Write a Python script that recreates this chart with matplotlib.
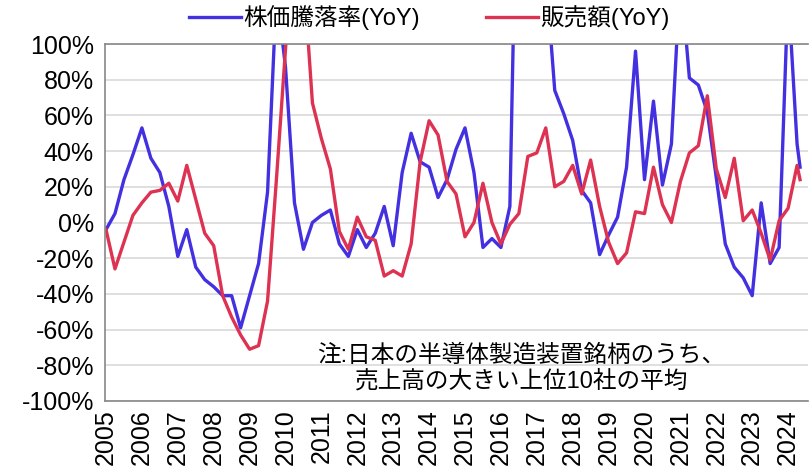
import numpy as np
import matplotlib
matplotlib.use("Agg")
import matplotlib.pyplot as plt

plt.rcParams['font.family'] = ['Liberation Sans', 'Noto Sans CJK JP', 'DejaVu Sans']

# quarterly YoY (%), 2005Q1 .. 2024Q2, then the latest month (May 2024)
start_year = 2005
latest = 2024 + 4 / 12

stock_yoy = [
    -4, 5, 24, 38, 53, 36, 28, 9, -19, -4, -25, -32,
    -36, -41, -41, -59, -41, -23, 17, 130, 87, 11, -15, 0,
    4, 7, -12, -19, -4, -14, -6, 9, -13, 28, 50, 34,
    31, 14, 24, 41, 53, 28, -14, -9, -14, 9, 260, 290,
    230, 140, 74, 61, 46, 18, 11, -18, -7, 3, 31, 96,
    24, 68, 21, 44, 140, 81, 77, 62, 25, -12, -25, -31,
    -41, 11, -23, -14, 130, 44, 31,
]
sales_yoy = [
    -4, -26, -11, 4, 11, 17, 18, 22, 12, 32, 13, -6,
    -13, -41, -53, -63, -71, -69, -44, 25, 97, 170, 140, 67,
    47, 30, -5, -15, 3, -8, -10, -30, -27, -30, -12, 34,
    57, 49, 23, 16, -8, 0, 22, 0, -12, -1, 5, 37,
    39, 53, 20, 23, 32, 16, 35, 9, -11, -23, -17, 6,
    5, 31, 10, 0, 23, 39, 43, 71, 30, 14, 36, 1,
    7, -6, -21, 1, 8, 32, 24,
]
years = list(range(2005, 2025))
yticks = list(range(-100, 101, 20))

labels = ['株価騰落率(YoY)', '販売額(YoY)']
colors = ['#4330E0', '#DE3252']
note = '注:日本の半導体製造装置銘柄のうち、\n売上高の大きい上位10社の平均'

n_q = len(stock_yoy) - 1
x = np.append(start_year + np.arange(n_q) / 4, latest)

fig = plt.figure(figsize=(8.12, 4.72), dpi=100)
ax = fig.add_axes([105 / 812, 71 / 472, 703 / 812, 357 / 472])

ax.plot(x, stock_yoy, color=colors[0], lw=2.4, label=labels[0])
ax.plot(x, sales_yoy, color=colors[1], lw=2.4, label=labels[1])

ax.set_ylim(-100, 100)
ax.set_xlim(2005 - 1 / 35.9, 2005 + 702 / 35.9)
ax.set_yticks(yticks)
ax.set_yticklabels([f'{v}%' for v in yticks])
ax.set_xticks(years)
ax.set_xticklabels([str(y) for y in years], rotation=90)
ax.tick_params(axis='both', length=0, labelsize=18)
ax.tick_params(axis='y', pad=8)
ax.tick_params(axis='x', pad=6)

ax.grid(axis='y', color='#D9D9D9', lw=1.2)
ax.set_axisbelow(True)
for side in ['left', 'bottom', 'top']:
    ax.spines[side].set_color('#888888')
    ax.spines[side].set_linewidth(1.2)
ax.spines['right'].set_visible(False)

ax.text(0.592, 0.092, note, transform=ax.transAxes, ha='center', va='center',
        fontsize=17, linespacing=1.2)

ax.legend(loc='center', bbox_to_anchor=(0.461, 1.073), ncol=2, frameon=False,
          fontsize=17, handlelength=2.2, handletextpad=0.1, columnspacing=2.8)

fig.savefig('out.png', dpi=100)
